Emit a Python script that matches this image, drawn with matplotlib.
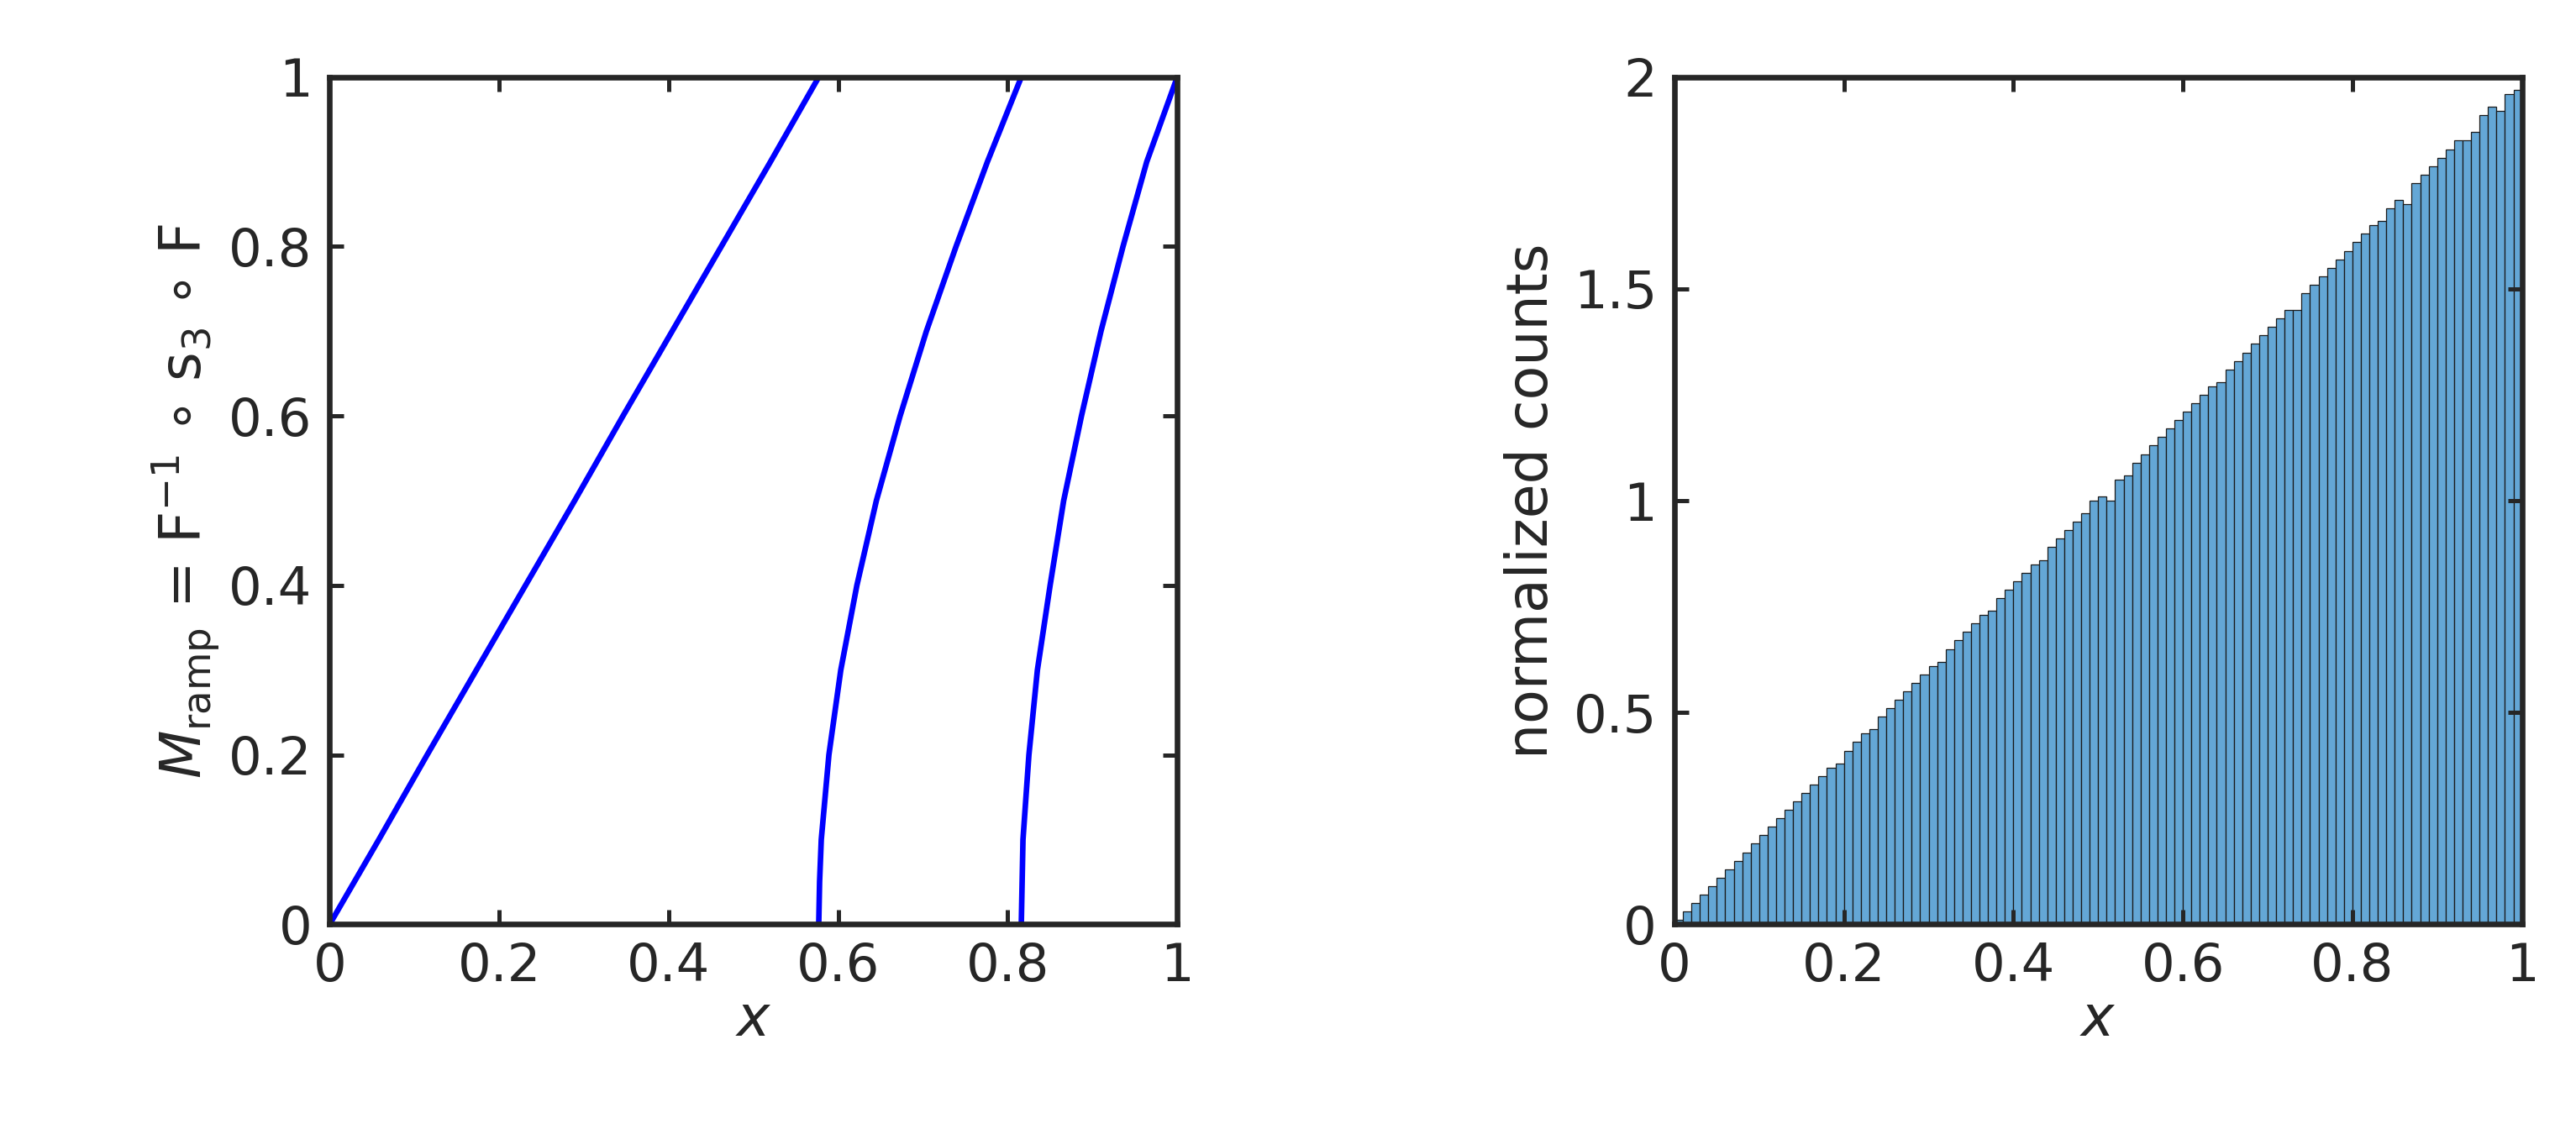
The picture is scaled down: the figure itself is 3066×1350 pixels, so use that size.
import matplotlib
matplotlib.use("Agg")
import matplotlib.pyplot as plt
import numpy as np

# Left panel: branches of the map (x read at given y)
y_vals = [0, 0.05, 0.1, 0.2, 0.3, 0.4, 0.5, 0.6, 0.7, 0.8, 0.9, 1.0]
branch1_x = [0, 0.029, 0.058, 0.115, 0.173, 0.231, 0.289, 0.346, 0.404, 0.462, 0.520, 0.577]
branch2_x = [0.577, 0.578, 0.580, 0.589, 0.603, 0.622, 0.645, 0.673, 0.704, 0.739, 0.776, 0.816]
branch3_x = [0.816, 0.817, 0.818, 0.825, 0.835, 0.850, 0.866, 0.887, 0.910, 0.936, 0.964, 1.0]

# Right panel: normalized histogram counts, 100 bins on [0,1]
counts = [0.01,0.03,0.05,0.07,0.09,0.11,0.13,0.15,0.17,0.19,
          0.21,0.23,0.25,0.27,0.29,0.31,0.33,0.35,0.37,0.38,
          0.41,0.43,0.45,0.46,0.49,0.51,0.53,0.55,0.57,0.59,
          0.61,0.62,0.65,0.67,0.69,0.71,0.73,0.74,0.77,0.79,
          0.81,0.83,0.85,0.86,0.89,0.91,0.93,0.95,0.97,1.00,
          1.01,1.00,1.05,1.06,1.09,1.11,1.13,1.15,1.17,1.19,
          1.21,1.23,1.25,1.27,1.28,1.31,1.33,1.35,1.37,1.39,
          1.41,1.43,1.45,1.45,1.49,1.51,1.53,1.55,1.57,1.59,
          1.61,1.63,1.65,1.66,1.69,1.71,1.70,1.75,1.77,1.79,
          1.81,1.83,1.85,1.85,1.87,1.91,1.93,1.92,1.96,1.97]
bin_edges = np.linspace(0, 1, len(counts) + 1)

txt = '#262626'
plt.rcParams['font.family'] = ['DejaVu Sans']
plt.rcParams['mathtext.fontset'] = 'dejavusans'
fig = plt.figure(figsize=(10.22, 4.5), dpi=300)
ax1 = fig.add_axes([0.128, 0.185, 0.329, 0.747])
ax2 = fig.add_axes([0.650, 0.185, 0.329, 0.747])

for bx in (branch1_x, branch2_x, branch3_x):
    ax1.plot(bx, y_vals, color='blue', lw=1.6)
ax1.set_xlim(0, 1); ax1.set_ylim(0, 1)
ax1.set_xticks([0, 0.2, 0.4, 0.6, 0.8, 1]); ax1.set_xticklabels(['0','0.2','0.4','0.6','0.8','1'])
ax1.set_yticks([0, 0.2, 0.4, 0.6, 0.8, 1]); ax1.set_yticklabels(['0','0.2','0.4','0.6','0.8','1'])
ax1.set_xlabel('$x$', fontsize=16, color=txt, labelpad=0)
ax1.set_ylabel(r'$M_{\mathrm{ramp}}$ = F$^{-1}$ $\circ$ s$_3$ $\circ$ F', fontsize=16, color=txt, labelpad=2)

ax2.bar(bin_edges[:-1], counts, width=np.diff(bin_edges), align='edge',
        color='#64a7d6', edgecolor='#1a1a1a', linewidth=0.3)
ax2.set_xlim(0, 1); ax2.set_ylim(0, 2)
ax2.set_xticks([0, 0.2, 0.4, 0.6, 0.8, 1]); ax2.set_xticklabels(['0','0.2','0.4','0.6','0.8','1'])
ax2.set_yticks([0, 0.5, 1, 1.5, 2]); ax2.set_yticklabels(['0','0.5','1','1.5','2'])
ax2.set_xlabel('$x$', fontsize=16, color=txt, labelpad=0)
ax2.set_ylabel('normalized counts', fontsize=16, color=txt, labelpad=4)

for ax in (ax1, ax2):
    ax.tick_params(direction='in', top=True, right=True, labelsize=15, colors=txt,
                   length=4, width=1.2, pad=5)
    for s in ax.spines.values():
        s.set_linewidth(1.6); s.set_color(txt)

fig.savefig('out.png', dpi=300)
